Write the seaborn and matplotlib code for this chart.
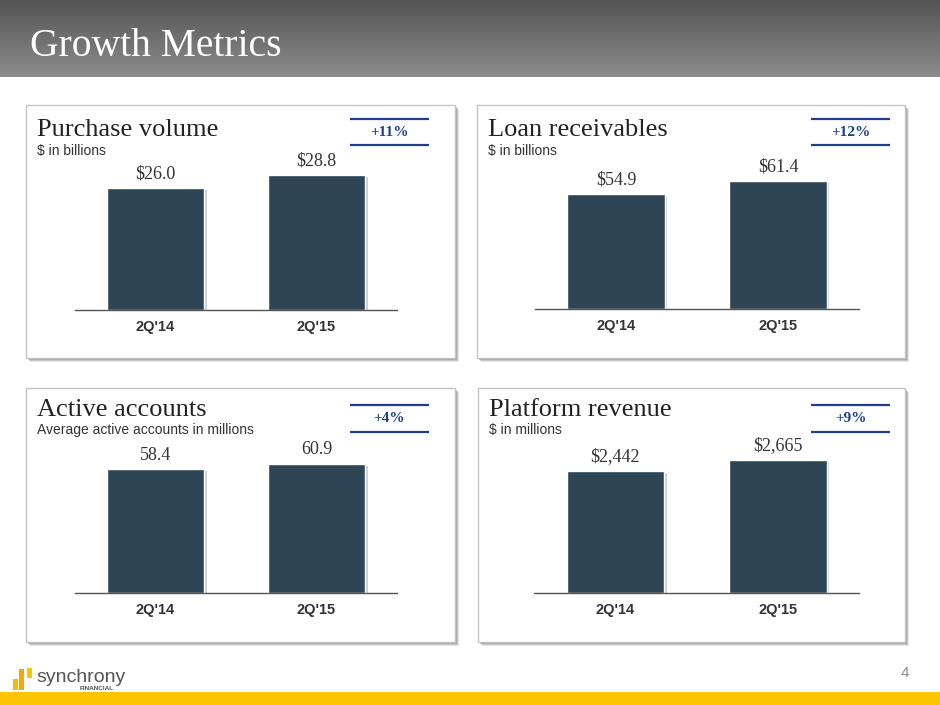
import matplotlib
matplotlib.use("Agg")
import matplotlib.pyplot as plt
import matplotlib.patheffects as pe
from matplotlib.patches import Rectangle
from matplotlib.colors import LinearSegmentedColormap
import numpy as np
import pandas as pd
import seaborn as sns

# ---------------- data ----------------
quarters = ["2Q'14", "2Q'15"]
purchase_volume = [26.0, 28.8]
loan_receivables = [54.9, 61.4]
active_accounts = [58.4, 60.9]
platform_revenue = [2442, 2665]

panel_titles = ["Purchase volume", "Loan receivables", "Active accounts", "Platform revenue"]
panel_subtitles = ["$ in billions", "$ in billions",
                   "Average active accounts in millions", "$ in millions"]
growth_labels = ["+11%", "+12%", "+4%", "+9%"]
value_formats = ["${:.1f}", "${:.1f}", "{:.1f}", "${:,.0f}"]
series = [purchase_volume, loan_receivables, active_accounts, platform_revenue]

# ---------------- style ----------------
sns.set_style("white")
plt.rcParams["font.family"] = ["Liberation Sans", "DejaVu Sans"]

W, H = 940, 705
BAR = "#2e4555"
NAVY = "#1f3e8e"
SERIF = ["Liberation Serif", "DejaVu Serif"]
SANS = ["Liberation Sans", "DejaVu Sans"]

fig = plt.figure(figsize=(W / 100, H / 100), dpi=100)
fig.patch.set_facecolor("white")

bg = fig.add_axes([0, 0, 1, 1], zorder=0)
bg.set_xlim(0, W)
bg.set_ylim(H, 0)
bg.axis("off")

# header gradient
cmap = LinearSegmentedColormap.from_list("hdr", ["#545454", "#8c8c8c"])
grad = np.linspace(0, 1, 100).reshape(-1, 1)
bg.imshow(grad, cmap=cmap, extent=[0, W, 77, 0], aspect="auto", zorder=1)
bg.text(30, 56.5, "Growth Metrics", color="white", fontsize=28.5, family=SERIF,
        va="baseline", ha="left", zorder=3)

# footer
bg.add_patch(Rectangle((0, 692), W, 13, color="#fdc400", lw=0, zorder=2))
bg.add_patch(Rectangle((13, 679), 5, 11, color="#f6b800", lw=0, zorder=2))
bg.add_patch(Rectangle((19, 669), 5, 21, color="#f4a900", lw=0, zorder=2))
bg.add_patch(Rectangle((27, 668), 5, 10, color="#fdc400", lw=0, zorder=2))
bg.text(36, 677, "synchrony", color="#555555", fontsize=14, family=SANS,
        va="center", ha="left", zorder=3)
bg.text(97, 688.5, "FINANCIAL", color="#555555", fontsize=4.6, family=SANS,
        fontweight="bold", va="center", ha="center", zorder=3)
bg.text(905, 673, "4", color="#8a8a8a", fontsize=11, family=SANS,
        va="center", ha="center", zorder=3)

# panel geometry (pixels): left, top, right, bottom
panels = [(26, 105, 455, 358), (477, 105, 905, 358),
          (26, 388, 455, 642), (478, 388, 905, 642)]
title_base = [136, 136, 415.5, 416]
sub_base = [155, 155, 434, 434]
badges = [(350, 429, 119, 145), (811, 890, 119, 145),
          (350, 429, 405, 432), (811, 890, 405, 432)]
axes_px = [(75, 397, 310), (535, 859, 309), (75, 397, 593), (534, 859, 593)]
ylim_top = [32.0, 71.8, 70.8, 3006]
AX_H = 150

for i, (l, t, r, b) in enumerate(panels):
    for k, (off, a) in enumerate([(4, 0.18), (3, 0.25), (2, 0.35)]):
        bg.add_patch(Rectangle((l + off, t + off), r - l, b - t, color="#6f6f6f",
                               alpha=a, lw=0, zorder=2))
    bg.add_patch(Rectangle((l, t), r - l, b - t, facecolor="white",
                           edgecolor="#c4c4c4", lw=1, zorder=2.5))
    bg.text(l + 11, title_base[i], panel_titles[i], color="#222222", fontsize=19,
            family=SERIF, va="baseline", ha="left", zorder=3)
    bg.text(l + 11, sub_base[i], panel_subtitles[i], color="#333333", fontsize=10,
            family=SANS, va="baseline", ha="left", zorder=3)
    x0, x1, y0, y1 = badges[i]
    bg.plot([x0, x1], [y0, y0], color=NAVY, lw=1.6, zorder=3, solid_capstyle="butt")
    bg.plot([x0, x1], [y1, y1], color=NAVY, lw=1.6, zorder=3, solid_capstyle="butt")
    bg.text((x0 + x1) / 2, (y0 + y1) / 2 + 0.5, growth_labels[i], color=NAVY,
            fontsize=11, family=SERIF, fontweight="bold", va="center",
            ha="center", zorder=3)

for i, (xl, xr, base) in enumerate(axes_px):
    ax = fig.add_axes([xl / W, 1 - base / H, (xr - xl) / W, AX_H / H], zorder=5)
    ax.patch.set_alpha(0)
    df = pd.DataFrame({"quarter": quarters, "value": series[i]})
    sns.barplot(data=df, x="quarter", y="value", ax=ax, color=BAR,
                saturation=1, width=0.6)
    for p in ax.patches:
        p.set_path_effects([pe.withSimplePatchShadow(offset=(2, -1.5),
                                                      shadow_rgbFace="#777777",
                                                      alpha=0.35)])
    ax.set_xlim(-0.5, 1.5)
    ax.set_ylim(0, ylim_top[i])
    ax.set_xlabel("")
    ax.set_ylabel("")
    ax.set_yticks([])
    for s in ["top", "right", "left"]:
        ax.spines[s].set_visible(False)
    ax.spines["bottom"].set_color("#555555")
    ax.spines["bottom"].set_linewidth(1.0)
    ax.tick_params(axis="x", length=0, pad=7.5)
    for lab in ax.get_xticklabels():
        lab.set_fontweight("bold")
        lab.set_fontsize(10.5)
        lab.set_color("#333333")
        lab.set_family(SANS)
    labels = [value_formats[i].format(v) for v in series[i]]
    ax.bar_label(ax.containers[0], labels=labels, padding=4, fontsize=13,
                 color="#333333", family=SERIF)

fig.savefig("out.png", dpi=100, facecolor="white")
